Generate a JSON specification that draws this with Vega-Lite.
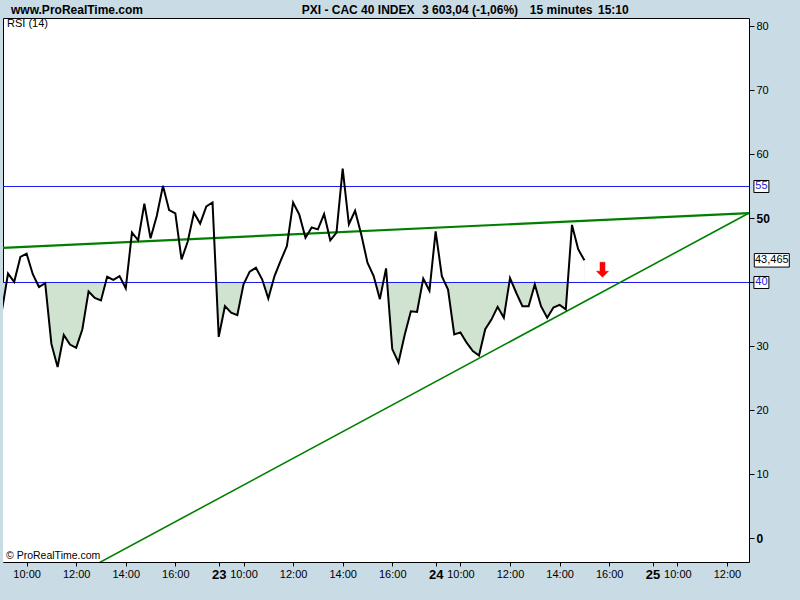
{
  "$schema": "https://vega.github.io/schema/vega-lite/v6.json",
  "width": 746,
  "height": 544,
  "autosize": {"type": "none"},
  "padding": {"left": 3, "top": 18, "right": 51, "bottom": 38},
  "background": "#c9dbe5",
  "config": {
    "view": {"fill": "white", "stroke": "black", "strokeWidth": 1},
    "font": "Liberation Sans"
  },
  "datasets": {
    "rsi": [
      {"t": 0.0, "v": 35.5}, {"t": 0.25, "v": 41.4}, {"t": 0.5, "v": 40.1}, {"t": 0.75, "v": 44.0},
      {"t": 1.0, "v": 44.5}, {"t": 1.25, "v": 41.3}, {"t": 1.5, "v": 39.3}, {"t": 1.75, "v": 39.9},
      {"t": 2.0, "v": 30.4}, {"t": 2.25, "v": 26.8}, {"t": 2.5, "v": 31.8}, {"t": 2.75, "v": 30.3},
      {"t": 3.0, "v": 29.8}, {"t": 3.25, "v": 32.7}, {"t": 3.5, "v": 38.6}, {"t": 3.75, "v": 37.6},
      {"t": 4.0, "v": 37.2}, {"t": 4.25, "v": 40.9}, {"t": 4.5, "v": 40.4}, {"t": 4.75, "v": 41.0},
      {"t": 5.0, "v": 39.1}, {"t": 5.25, "v": 47.8}, {"t": 5.5, "v": 46.6}, {"t": 5.75, "v": 52.3},
      {"t": 6.0, "v": 46.9}, {"t": 6.25, "v": 50.4}, {"t": 6.5, "v": 55.1}, {"t": 6.75, "v": 51.3},
      {"t": 7.0, "v": 50.8}, {"t": 7.25, "v": 43.6}, {"t": 7.5, "v": 46.4}, {"t": 7.75, "v": 50.9},
      {"t": 8.0, "v": 49.2}, {"t": 8.25, "v": 51.9}, {"t": 8.5, "v": 52.5}, {"t": 8.75, "v": 31.5},
      {"t": 9.0, "v": 36.3}, {"t": 9.25, "v": 35.3}, {"t": 9.5, "v": 34.9}, {"t": 9.75, "v": 39.7},
      {"t": 10.0, "v": 41.7}, {"t": 10.25, "v": 42.3}, {"t": 10.5, "v": 40.5}, {"t": 10.75, "v": 37.5},
      {"t": 11.0, "v": 41.0}, {"t": 11.25, "v": 43.4}, {"t": 11.5, "v": 45.7}, {"t": 11.75, "v": 52.5},
      {"t": 12.0, "v": 50.6}, {"t": 12.25, "v": 47.0}, {"t": 12.5, "v": 48.6}, {"t": 12.75, "v": 48.3},
      {"t": 13.0, "v": 50.7}, {"t": 13.25, "v": 46.6}, {"t": 13.5, "v": 47.8}, {"t": 13.75, "v": 57.8},
      {"t": 14.0, "v": 49.1}, {"t": 14.25, "v": 51.2}, {"t": 14.5, "v": 47.5}, {"t": 14.75, "v": 43.1},
      {"t": 15.0, "v": 41.0}, {"t": 15.25, "v": 37.4}, {"t": 15.5, "v": 42.2}, {"t": 15.75, "v": 29.6},
      {"t": 16.0, "v": 27.5}, {"t": 16.25, "v": 31.8}, {"t": 16.5, "v": 35.5}, {"t": 16.75, "v": 35.4},
      {"t": 17.0, "v": 40.6}, {"t": 17.25, "v": 38.7}, {"t": 17.5, "v": 48.0}, {"t": 17.75, "v": 41.0},
      {"t": 18.0, "v": 38.9}, {"t": 18.25, "v": 31.9}, {"t": 18.5, "v": 32.2}, {"t": 18.75, "v": 30.6},
      {"t": 19.0, "v": 29.3}, {"t": 19.25, "v": 28.6}, {"t": 19.5, "v": 32.7}, {"t": 19.75, "v": 34.2},
      {"t": 20.0, "v": 36.2}, {"t": 20.25, "v": 34.5}, {"t": 20.5, "v": 40.7}, {"t": 20.75, "v": 38.4},
      {"t": 21.0, "v": 36.3}, {"t": 21.25, "v": 36.3}, {"t": 21.5, "v": 39.7}, {"t": 21.75, "v": 36.3},
      {"t": 22.0, "v": 34.5}, {"t": 22.25, "v": 36.1}, {"t": 22.5, "v": 36.5}, {"t": 22.75, "v": 35.8},
      {"t": 23.0, "v": 49.0}, {"t": 23.25, "v": 45.2}, {"t": 23.5, "v": 43.465}
    ],
    "trend": [
      {"line": "upper", "t": 0.048, "v": 45.4},
      {"line": "upper", "t": 30.14, "v": 50.85},
      {"line": "lower", "t": 3.92, "v": -3.8},
      {"line": "lower", "t": 30.14, "v": 50.85}
    ],
    "levels": [
      {"v": 55, "label": "55", "kind": "level"},
      {"v": 40, "label": "40", "kind": "level"},
      {"v": 43.465, "label": "43,465", "kind": "last"}
    ],
    "one": [{}]
  },
  "layer": [
    {
      "data": {"name": "rsi"},
      "mark": {"type": "area", "color": "#d0e3d0", "clip": true},
      "encoding": {
        "x": {
          "field": "t", "type": "quantitative",
          "scale": {"domain": [0.048, 30.14], "nice": false, "zero": false},
          "axis": {
            "orient": "bottom",
            "title": null,
            "grid": false,
            "domain": false,
            "values": [1, 3, 5, 7, 8.75, 9.75, 11.75, 13.75, 15.75, 17.5, 18.5, 20.5, 22.5, 24.5, 26.25, 27.25, 29.25],
            "labelExpr": "abs(datum.value/8.75 - round(datum.value/8.75)) < 0.001 ? '' + (22 + round(datum.value/8.75)) : (round(datum.value - floor(datum.value/8.75)*8.75 + 9)) + ':00'",
            "labelFontWeight": {"condition": {"test": "abs(datum.value/8.75 - round(datum.value/8.75)) < 0.001", "value": "bold"}, "value": "normal"},
            "labelFontSize": {"condition": {"test": "abs(datum.value/8.75 - round(datum.value/8.75)) < 0.001", "value": 13}, "value": 11},
            "labelColor": "black",
            "labelFont": "Liberation Sans",
            "labelPadding": 2,
            "labelFlush": false,
            "labelOverlap": false,
            "tickColor": "black",
            "tickSize": 4
          }
        },
        "y": {
          "field": "v", "type": "quantitative",
          "scale": {"domain": [-3.672, 81.328], "nice": false, "zero": false},
          "axis": {
            "orient": "right",
            "title": null,
            "grid": false,
            "domain": false,
            "values": [0, 10, 20, 30, 40, 50, 60, 70, 80],
            "labelFontWeight": {"condition": {"test": "datum.value == 0 || datum.value == 50", "value": "bold"}, "value": "normal"},
            "labelFontSize": {"condition": {"test": "datum.value == 0 || datum.value == 50", "value": 12}, "value": 11},
            "labelColor": "black",
            "labelFont": "Liberation Sans",
            "labelPadding": 2,
            "labelFlush": false,
            "tickColor": "black",
            "tickSize": 5
          }
        },
        "y2": {"datum": 40}
      }
    },
    {
      "data": {"name": "rsi"},
      "mark": {"type": "area", "color": "white", "clip": true},
      "encoding": {
        "x": {"field": "t", "type": "quantitative"},
        "y": {"field": "v", "type": "quantitative"},
        "y2": {"datum": -3.672}
      }
    },
    {
      "data": {"name": "levels"},
      "transform": [{"filter": "datum.kind == 'level'"}],
      "mark": {"type": "rule", "stroke": "#1c1cf0", "strokeWidth": 1, "opacity": 1, "strokeOpacity": 1},
      "encoding": {
        "x": {"datum": 0.048},
        "x2": {"datum": 30.14},
        "y": {"field": "v", "type": "quantitative"}
      }
    },
    {
      "data": {"name": "trend"},
      "transform": [{"filter": "datum.line == 'upper'"}],
      "mark": {"type": "line", "color": "#008000", "strokeWidth": 2.2, "clip": true},
      "encoding": {
        "x": {"field": "t", "type": "quantitative"},
        "y": {"field": "v", "type": "quantitative"}
      }
    },
    {
      "data": {"name": "trend"},
      "transform": [{"filter": "datum.line == 'lower'"}],
      "mark": {"type": "line", "color": "#008000", "strokeWidth": 1.6, "clip": true},
      "encoding": {
        "x": {"field": "t", "type": "quantitative"},
        "y": {"field": "v", "type": "quantitative"}
      }
    },
    {
      "data": {"name": "rsi"},
      "mark": {"type": "line", "color": "black", "strokeWidth": 2, "clip": true},
      "encoding": {
        "x": {"field": "t", "type": "quantitative"},
        "y": {"field": "v", "type": "quantitative"}
      }
    },
    {
      "data": {"name": "levels"},
      "transform": [{"filter": "datum.kind == 'level'"}],
      "mark": {"type": "point", "shape": "M-1,-0.8L1,-0.8L1,0.8L-1,0.8Z", "size": 225, "filled": true, "fill": "white", "stroke": "black", "strokeWidth": 1, "opacity": 1},
      "encoding": {
        "x": {"datum": 30.64},
        "y": {"field": "v", "type": "quantitative"}
      }
    },
    {
      "data": {"name": "levels"},
      "transform": [{"filter": "datum.kind == 'last'"}],
      "mark": {"type": "point", "shape": "M-1,-0.386L1,-0.386L1,0.386L-1,0.386Z", "size": 1225, "filled": true, "fill": "white", "stroke": "black", "strokeWidth": 1, "opacity": 1},
      "encoding": {
        "x": {"datum": 31.06},
        "y": {"field": "v", "type": "quantitative"}
      }
    },
    {
      "data": {"name": "levels"},
      "transform": [{"filter": "datum.kind == 'level'"}],
      "mark": {"type": "text", "color": "#2020e0", "fontSize": 11, "align": "center", "baseline": "middle"},
      "encoding": {
        "x": {"datum": 30.64},
        "y": {"field": "v", "type": "quantitative"},
        "text": {"field": "label"}
      }
    },
    {
      "data": {"name": "levels"},
      "transform": [{"filter": "datum.kind == 'last'"}],
      "mark": {"type": "text", "color": "black", "fontSize": 11, "align": "center", "baseline": "middle"},
      "encoding": {
        "x": {"datum": 31.06},
        "y": {"field": "v", "type": "quantitative"},
        "text": {"field": "label"}
      }
    },
    {
      "data": {"name": "one"},
      "mark": {"type": "point", "shape": "M-0.33,-1L0.33,-1L0.33,0.2L0.8,0.2L0,1L-0.8,0.2L-0.33,0.2Z", "size": 225, "filled": true, "fill": "#ff0000", "stroke": "#e00000", "strokeWidth": 0.5, "opacity": 1},
      "encoding": {"x": {"datum": 24.23}, "y": {"datum": 42.0}}
    },
    {
      "data": {"name": "one"},
      "mark": {"type": "text", "text": "RSI (14)", "fontSize": 11, "align": "left", "baseline": "middle", "color": "black"},
      "encoding": {"x": {"datum": 0.21}, "y": {"datum": 80.39}}
    },
    {
      "data": {"name": "one"},
      "mark": {"type": "text", "text": "© ProRealTime.com", "fontSize": 10.5, "align": "left", "baseline": "middle", "color": "black"},
      "encoding": {"x": {"datum": 0.17}, "y": {"datum": -2.73}}
    },
    {
      "data": {"name": "one"},
      "mark": {"type": "text", "text": "www.ProRealTime.com", "fontSize": 12, "fontWeight": "bold", "align": "left", "baseline": "middle", "color": "black"},
      "encoding": {"x": {"datum": 0.37}, "y": {"datum": 82.58}}
    },
    {
      "data": {"name": "one"},
      "mark": {"type": "text", "text": "PXI - CAC 40 INDEX", "fontSize": 12, "fontWeight": "bold", "align": "left", "baseline": "middle", "color": "black"},
      "encoding": {"x": {"datum": 12.1}, "y": {"datum": 82.58}}
    },
    {
      "data": {"name": "one"},
      "mark": {"type": "text", "text": "3 603,04 (-1,06%)", "fontSize": 12, "fontWeight": "bold", "align": "left", "baseline": "middle", "color": "black"},
      "encoding": {"x": {"datum": 16.95}, "y": {"datum": 82.58}}
    },
    {
      "data": {"name": "one"},
      "mark": {"type": "text", "text": "15 minutes", "fontSize": 12, "fontWeight": "bold", "align": "left", "baseline": "middle", "color": "black"},
      "encoding": {"x": {"datum": 21.3}, "y": {"datum": 82.58}}
    },
    {
      "data": {"name": "one"},
      "mark": {"type": "text", "text": "15:10", "fontSize": 12, "fontWeight": "bold", "align": "left", "baseline": "middle", "color": "black"},
      "encoding": {"x": {"datum": 24.05}, "y": {"datum": 82.58}}
    }
  ]
}
